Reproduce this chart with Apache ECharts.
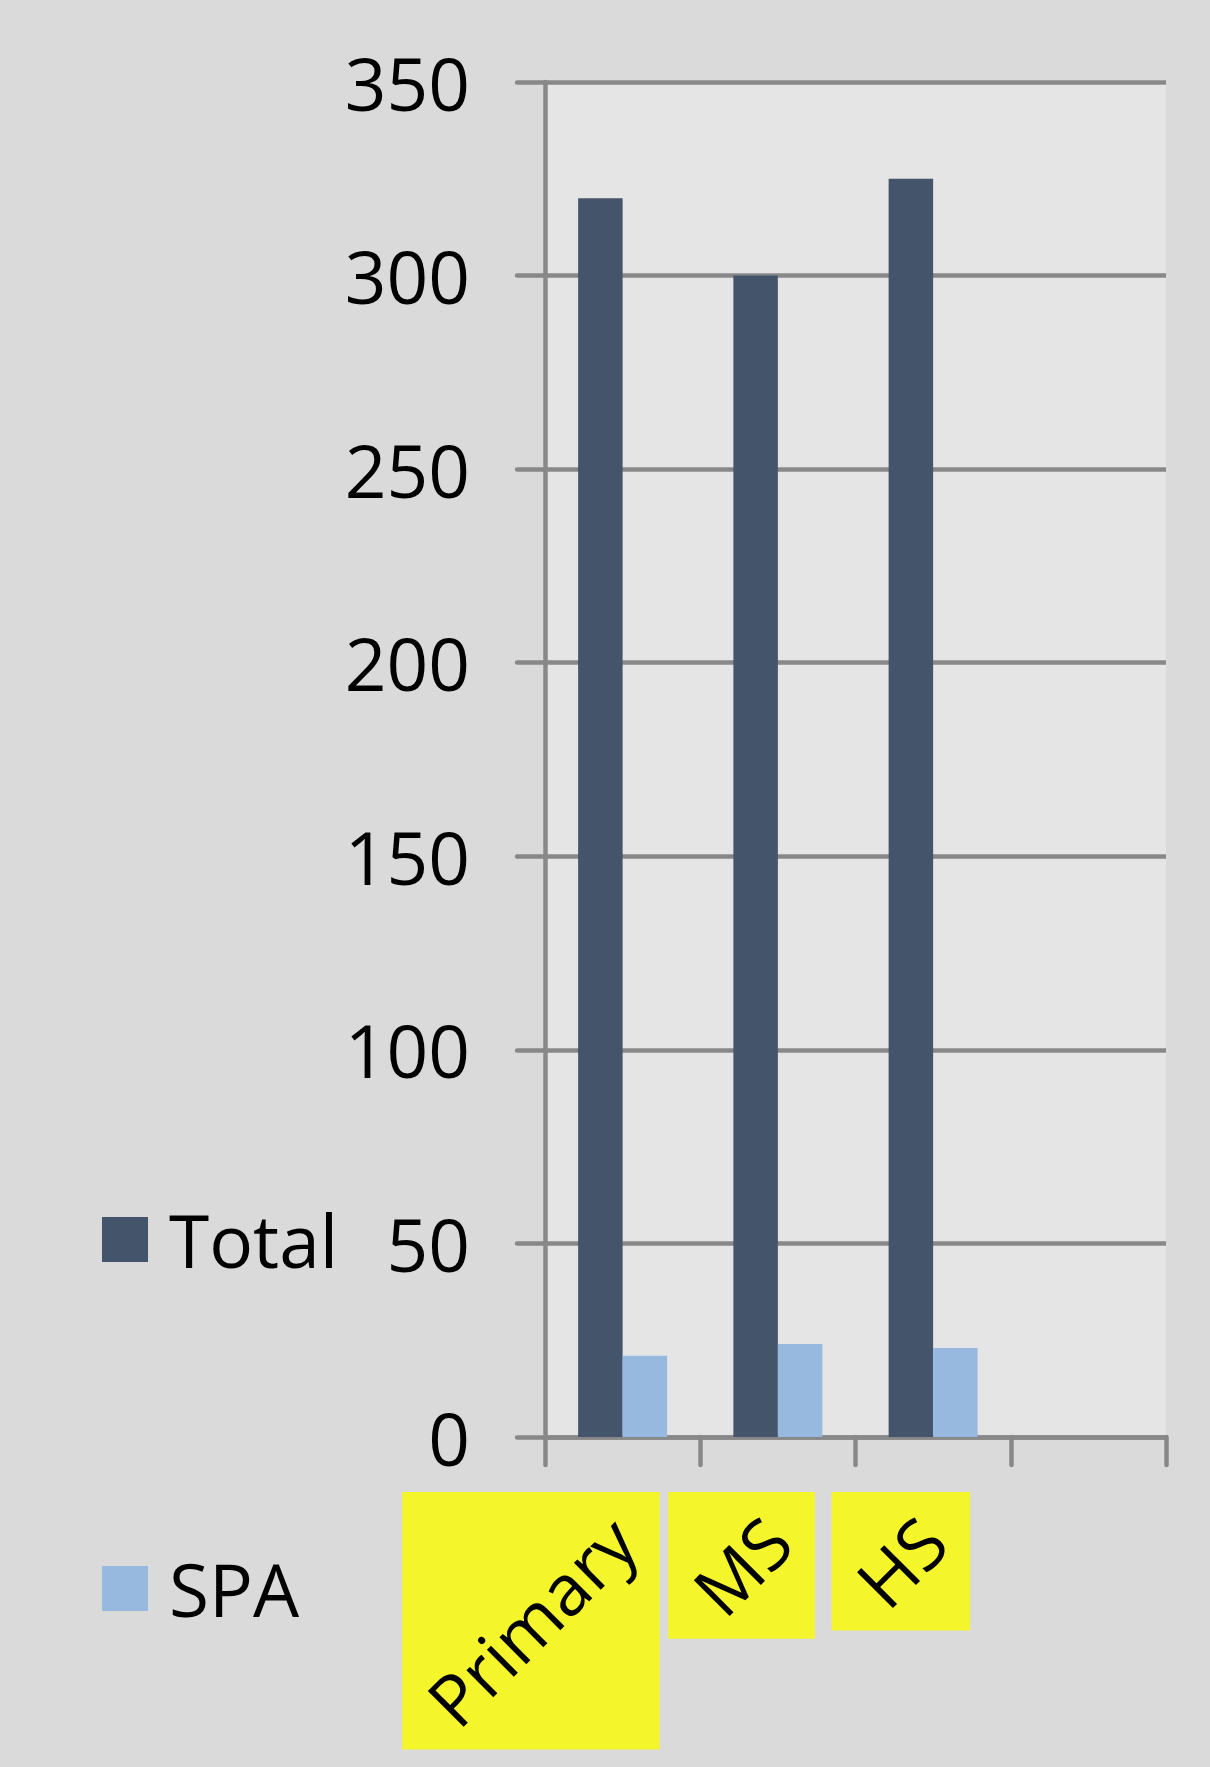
<!DOCTYPE html>
<html>
<head>
<meta charset="utf-8">
<script src="https://cdn.jsdelivr.net/npm/echarts@6/dist/echarts.min.js"></script>
<style>
  html, body { margin: 0; padding: 0; background: #DADADA; }
  #chart { width: 1210px; height: 1767px; }
</style>
</head>
<body>
<div id="chart"></div>
<script>
// ---- data ----
const categories = ['Primary', 'MS', 'HS', ''];
const totalValues = [320, 300, 325, null];
const spaValues = [21, 24, 23, null];
const seriesNames = ['Total', 'SPA'];
const yMin = 0, yMax = 350, yInterval = 50;

// ---- styles ----
const FONT = '"Open Sans", "Noto Sans", sans-serif';
const GRID_COLOR = '#888888';
const LINE_W = 4.5;
const BIG_FONT = 73;
const X_FONT_SIZE = 71;
const X_LABEL_MARGIN = 92;
const X_ROTATE = 45;
const BOX_PAD = 37;
const HIGHLIGHT = '#F5F52B';

const chart = echarts.init(document.getElementById('chart'), null, { renderer: 'svg' });

const option = {
  animation: false,
  backgroundColor: '#DADADA',
  grid: {
    left: 545, right: 44, top: 82, bottom: 330,
    show: true, backgroundColor: '#E5E5E5', borderWidth: 0
  },
  legend: {
    orient: 'vertical', left: 102, top: 1203, padding: 0,
    itemWidth: 46, itemHeight: 45, itemGap: 276,
    icon: 'rect',
    data: seriesNames,
    textStyle: { fontSize: BIG_FONT, fontFamily: FONT, color: '#000000', padding: [0, 0, 0, 16] }
  },
  xAxis: {
    type: 'category',
    data: categories,
    axisLine: { show: true, lineStyle: { color: GRID_COLOR, width: LINE_W, cap: 'round' } },
    axisTick: { show: true, length: 28, lineStyle: { color: GRID_COLOR, width: LINE_W, cap: 'round' } },
    axisLabel: {
      interval: 0, rotate: X_ROTATE, margin: X_LABEL_MARGIN,
      fontSize: X_FONT_SIZE, fontFamily: FONT, color: '#000000'
    },
    splitLine: { show: false }
  },
  yAxis: {
    type: 'value', min: yMin, max: yMax, interval: yInterval,
    axisLine: { show: true, lineStyle: { color: GRID_COLOR, width: LINE_W } },
    axisTick: { show: true, length: 28, lineStyle: { color: GRID_COLOR, width: LINE_W, cap: 'round' } },
    splitLine: { show: true, lineStyle: { color: GRID_COLOR, width: LINE_W } },
    axisLabel: { fontSize: BIG_FONT, fontFamily: FONT, color: '#000000', margin: 75 }
  },
  series: [
    { name: seriesNames[0], type: 'bar', data: totalValues, barWidth: 44.5, barGap: '0%',
      itemStyle: { color: '#44546A' } },
    { name: seriesNames[1], type: 'bar', data: spaValues, barWidth: 44.5, barGap: '0%',
      itemStyle: { color: '#97B8DF' } }
  ]
};
chart.setOption(option);

// yellow highlight boxes behind the rotated category labels
function labelBoxes() {
  const ctx = document.createElement('canvas').getContext('2d');
  ctx.font = X_FONT_SIZE + 'px "Open Sans"';
  const rad = X_ROTATE * Math.PI / 180;
  const c = Math.cos(rad), s = Math.sin(rad);
  const py = chart.convertToPixel({ yAxisIndex: 0 }, yMin) + X_LABEL_MARGIN;
  const out = [];
  categories.forEach((cat, i) => {
    if (!cat) return;
    const w = ctx.measureText(cat).width;
    const px = chart.convertToPixel({ xAxisIndex: 0 }, i);
    const left = px - w * c - BOX_PAD, right = px + BOX_PAD;
    const top = py - BOX_PAD, bottom = py + w * s + BOX_PAD;
    out.push({
      type: 'rect', z: -10,
      shape: { x: left, y: top, width: right - left, height: bottom - top },
      style: { fill: HIGHLIGHT }
    });
  });
  return out;
}
chart.setOption({ graphic: labelBoxes() });
</script>
</body>
</html>
